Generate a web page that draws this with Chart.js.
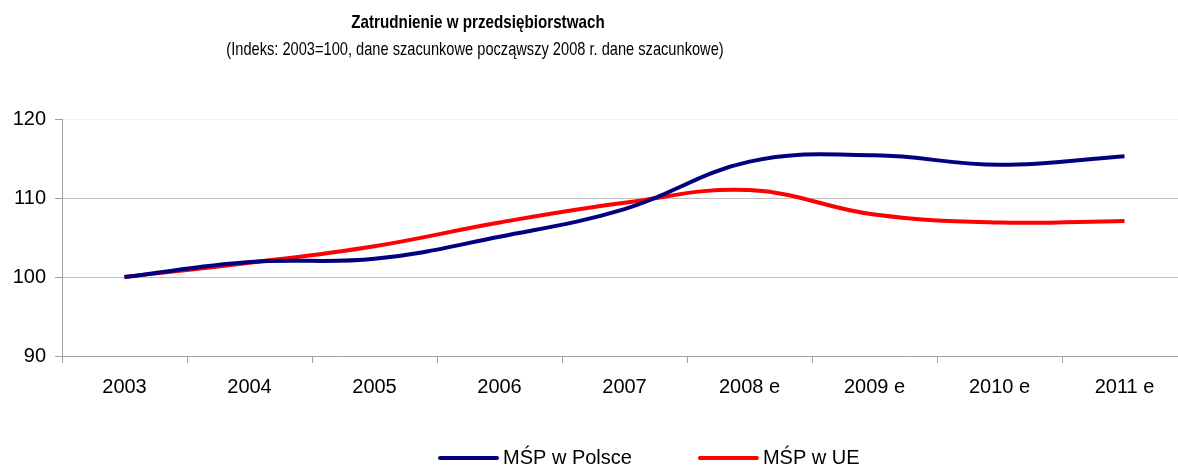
<!DOCTYPE html>
<html>
<head>
<meta charset="utf-8">
<script src="https://cdn.jsdelivr.net/npm/chart.js@4"></script>
<style>
  html, body { margin: 0; padding: 0; background: #fff; overflow: hidden; }
  #wrap { width: 1178px; height: 466px; overflow: hidden; }
</style>
</head>
<body>
<div id="wrap"><canvas id="chart" width="1190" height="466"></canvas></div>
<script>
const years = ['2003', '2004', '2005', '2006', '2007', '2008 e', '2009 e', '2010 e', '2011 e'];
const msp_polska = [100, 101.9, 102.3, 105.1, 108.6, 114.6, 115.4, 114.2, 115.3];
const msp_ue = [100, 101.8, 103.9, 106.9, 109.4, 111.0, 107.9, 106.9, 107.1];
const seriesNames = ['MŚP w Polsce', 'MŚP w UE'];
const yTicks = [90, 100, 110, 120];
const titleText = 'Zatrudnienie w przedsiębiorstwach';
const subtitleText = '(Indeks: 2003=100, dane szacunkowe począwszy 2008 r. dane szacunkowe)';

const SANS = '"Liberation Sans", Arial, sans-serif';

// narrow face is not installed, so squeeze the header text horizontally
function drawSqueezed(ctx, text, cx, cy, font, sx) {
  ctx.save();
  ctx.font = font;
  ctx.translate(cx, cy);
  ctx.scale(sx, 1);
  ctx.fillText(text, 0, 0);
  ctx.restore();
}

// title, subtitle and legend drawn by hand so they sit where the original has them
const headerAndLegend = {
  id: 'headerAndLegend',
  afterDraw(chart) {
    const ctx = chart.ctx;
    ctx.save();
    ctx.fillStyle = '#000';
    ctx.textAlign = 'center';
    ctx.textBaseline = 'middle';
    drawSqueezed(ctx, titleText, 478, 23, 'bold 19px ' + SANS, 0.8);
    drawSqueezed(ctx, subtitleText, 475, 50, '19px ' + SANS, 0.77);

    let x = 440;
    const y = 458;
    chart.data.datasets.forEach((ds) => {
      ctx.strokeStyle = ds.borderColor;
      ctx.lineWidth = 4;
      ctx.lineCap = 'round';
      ctx.beginPath();
      ctx.moveTo(x, y);
      ctx.lineTo(x + 57, y);
      ctx.stroke();
      ctx.font = '20px ' + SANS;
      ctx.textAlign = 'left';
      ctx.fillStyle = '#000';
      ctx.fillText(ds.label, x + 63, y);
      x += 63 + ctx.measureText(ds.label).width + 68;
    });
    ctx.restore();
  }
};

new Chart(document.getElementById('chart').getContext('2d'), {
  type: 'line',
  data: {
    labels: years,
    datasets: [
      { label: seriesNames[0], data: msp_polska, borderColor: '#000080', borderWidth: 4, pointRadius: 0, tension: 0.4, fill: false },
      { label: seriesNames[1], data: msp_ue, borderColor: '#ff0000', borderWidth: 4, pointRadius: 0, tension: 0.4, fill: false },
    ],
  },
  options: {
    responsive: false,
    animation: false,
    devicePixelRatio: 1,
    layout: { padding: { top: 119, left: 12, right: 3, bottom: 70 } },
    plugins: { legend: { display: false }, title: { display: false }, tooltip: { enabled: false } },
    scales: {
      x: {
        offset: true,
        grid: { offset: true, drawOnChartArea: false, drawTicks: true, tickLength: 7, tickColor: '#a0a0a0' },
        border: { color: '#a0a0a0', width: 1 },
        ticks: { color: '#000', font: { family: SANS, size: 20 }, padding: 12, maxRotation: 0, autoSkip: false },
        afterFit(s) { s.height = 40; },
      },
      y: {
        min: yTicks[0],
        max: yTicks[yTicks.length - 1],
        ticks: { stepSize: 10, color: '#000', font: { family: SANS, size: 20 }, padding: 9 },
        grid: {
          color: (c) => (c.tick && c.tick.value === yTicks[yTicks.length - 1] ? '#f2f2f2' : '#c0c0c0'),
          tickLength: 7,
          tickColor: '#a0a0a0',
        },
        border: { color: '#a0a0a0' },
        afterFit(s) { s.width = 50; },
      },
    },
  },
  plugins: [headerAndLegend],
});
</script>
</body>
</html>
